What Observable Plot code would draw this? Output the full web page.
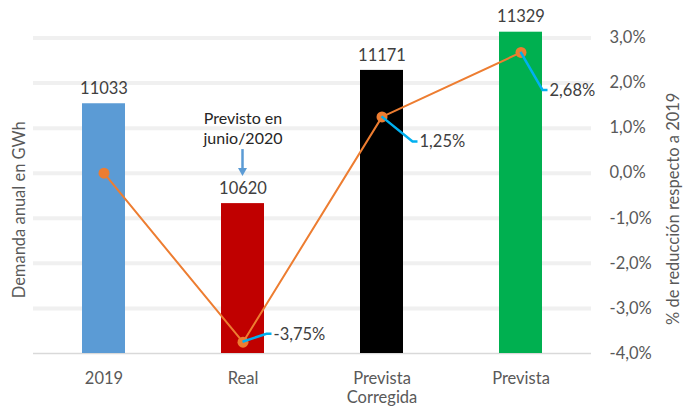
<!DOCTYPE html>
<html>
<head>
<meta charset="utf-8">
<script src="https://cdn.jsdelivr.net/npm/d3@7"></script>
<script src="https://cdn.jsdelivr.net/npm/@observablehq/plot@0.6"></script>
<style>
  body { margin: 0; background: #ffffff; }
</style>
</head>
<body>
<div id="chart"></div>
<script>
// Annual demand (GWh) and change with respect to 2019 (%)
const categories = ["2019", "Real", "Prevista\nCorregida", "Prevista"];
const demanda = [11033, 10620, 11171, 11329];
const reduccion = [0, -3.75, 1.25, 2.68];
const pctTicks = [-4, -3, -2, -1, 0, 1, 2, 3];
const barColors = ["#5B9BD5", "#C00000", "#000000", "#00B050"];
const nota = "Previsto en\njunio/2020";
const tituloIzq = "Demanda anual en GWh";
const tituloDer = "% de reducción respecto a 2019";

// Primary (GWh) axis extent; the secondary (%) axis is mapped onto it
const gwhMin = 10000, gwhMax = 11305;
const pctMin = -4, pctMax = 3;
const pctToGwh = p => gwhMin + (p - pctMin) / (pctMax - pctMin) * (gwhMax - gwhMin);
const gwhToPct = v => pctMin + (v - gwhMin) / (gwhMax - gwhMin) * (pctMax - pctMin);
const fmtPct = (p, digits) => {
  const r = Math.round(p * 10 ** digits) / 10 ** digits || 0;
  return r.toFixed(digits).replace(".", ",") + "%";
};

const rows = categories.map((c, i) => ({
  cat: c, gwh: demanda[i], pct: reduccion[i], pctY: pctToGwh(reduccion[i]), color: barColors[i], i
}));

const PAD_INNER = 0.69;
// Pixel offsets of the callout leaders for the % labels
const leaderOffsets = [null, [24, -8], [31, 25], [22, 38]];
const FONT = "Lato, 'Open Sans', sans-serif";

// Half band width, so custom marks sit at the band centre
function bandHalf(scales, dims) {
  const x = scales.x;
  let bw = null;
  if (x) {
    if (typeof x.bandwidth === "number") bw = x.bandwidth;
    else if (typeof x.bandwidth === "function") bw = x.bandwidth();
    else if (x.scale && typeof x.scale.bandwidth === "function") bw = x.scale.bandwidth();
  }
  if (bw == null) {
    const step = (dims.width - dims.marginLeft - dims.marginRight) / categories.length;
    bw = step * (1 - PAD_INNER);
  }
  return bw / 2;
}

function leaders(index, scales, values, dims) {
  const g = d3.create("svg:g");
  const h = bandHalf(scales, dims);
  for (const i of index) {
    const off = leaderOffsets[rows[i].i];
    if (!off) continue;
    const x0 = values.x[i] + h, y0 = values.y[i];
    const [dx, dy] = off;
    g.append("path")
      .attr("d", `M${x0},${y0}L${x0 + dx},${y0 + dy}h5`)
      .attr("fill", "none")
      .attr("stroke", "#00B0F0")
      .attr("stroke-width", 2.5);
    g.append("text")
      .attr("x", x0 + dx + 7)
      .attr("y", y0 + dy)
      .attr("dy", "0.35em")
      .attr("text-anchor", "start")
      .attr("fill", "#404040")
      .attr("font-size", 16.5)
      .attr("font-family", FONT)
      .text(fmtPct(rows[i].pct, 2));
  }
  return g.node();
}

function notaArrow(index, scales, values, dims) {
  const g = d3.create("svg:g");
  const h = bandHalf(scales, dims);
  for (const i of index) {
    const x0 = values.x[i] + h, y0 = values.y[i];
    g.append("path")
      .attr("d", `M${x0},${y0 - 54}V${y0 - 34}`)
      .attr("stroke", "#5B9BD5")
      .attr("stroke-width", 2.5);
    g.append("path")
      .attr("d", `M${x0 - 4.5},${y0 - 35}L${x0 + 4.5},${y0 - 35}L${x0},${y0 - 27}Z`)
      .attr("fill", "#5B9BD5");
  }
  return g.node();
}

const chart = Plot.plot({
  width: 683,
  height: 412,
  marginTop: 37.5,
  marginBottom: 59,
  marginLeft: 33,
  marginRight: 92,
  style: { fontFamily: FONT, fontSize: "16.5px", color: "#595959", background: "#ffffff" },
  x: { domain: categories, paddingInner: PAD_INNER, paddingOuter: PAD_INNER / 2 },
  y: { domain: [gwhMin, gwhMax] },
  color: { type: "identity" },
  marks: [
    Plot.ruleY(pctTicks.slice(1).map(pctToGwh), { stroke: "#F0F0F0", strokeWidth: 4 }),
    Plot.ruleY([gwhMin], { stroke: "#D9D9D9", strokeWidth: 1.5 }),
    Plot.barY(rows, { x: "cat", y1: gwhMin, y2: "gwh", fill: "color" }),
    Plot.text(rows, { x: "cat", y: "gwh", text: d => String(d.gwh), dy: -15, fill: "#404040", fontSize: 16.5 }),
    Plot.text(rows.filter(d => d.cat === "Real"), {
      x: "cat", y: "gwh", text: () => nota, lineAnchor: "bottom", dy: -60, lineHeight: 1.2, fill: "#262626", fontSize: 16
    }),
    Plot.dot(rows.filter(d => d.cat === "Real"), { x: "cat", y: "gwh", render: notaArrow }),
    Plot.line(rows, { x: "cat", y: "pctY", stroke: "#ED7D31", strokeWidth: 2 }),
    Plot.dot(rows, { x: "cat", y: "pctY", r: 5.5, fill: "#ED7D31" }),
    Plot.dot(rows, { x: "cat", y: "pctY", render: leaders }),
    Plot.axisX({ tickSize: 0, tickPadding: 18, label: null, fontSize: 16.5, lineHeight: 1.1 }),
    Plot.axisY(pctTicks.map(pctToGwh), {
      anchor: "right", tickSize: 0, tickPadding: 18, label: null,
      tickFormat: v => fmtPct(gwhToPct(v), 1), fontSize: 16.5
    }),
    Plot.text([tituloIzq], { frameAnchor: "left", textAnchor: "middle", text: d => d, rotate: -90, dx: -14, dy: 14, fontSize: 16.5 }),
    Plot.text([tituloDer], { frameAnchor: "right", textAnchor: "middle", text: d => d, rotate: -90, dx: 82, dy: 13, fontSize: 16.5 })
  ]
});

document.getElementById("chart").appendChild(chart);
</script>
</body>
</html>
